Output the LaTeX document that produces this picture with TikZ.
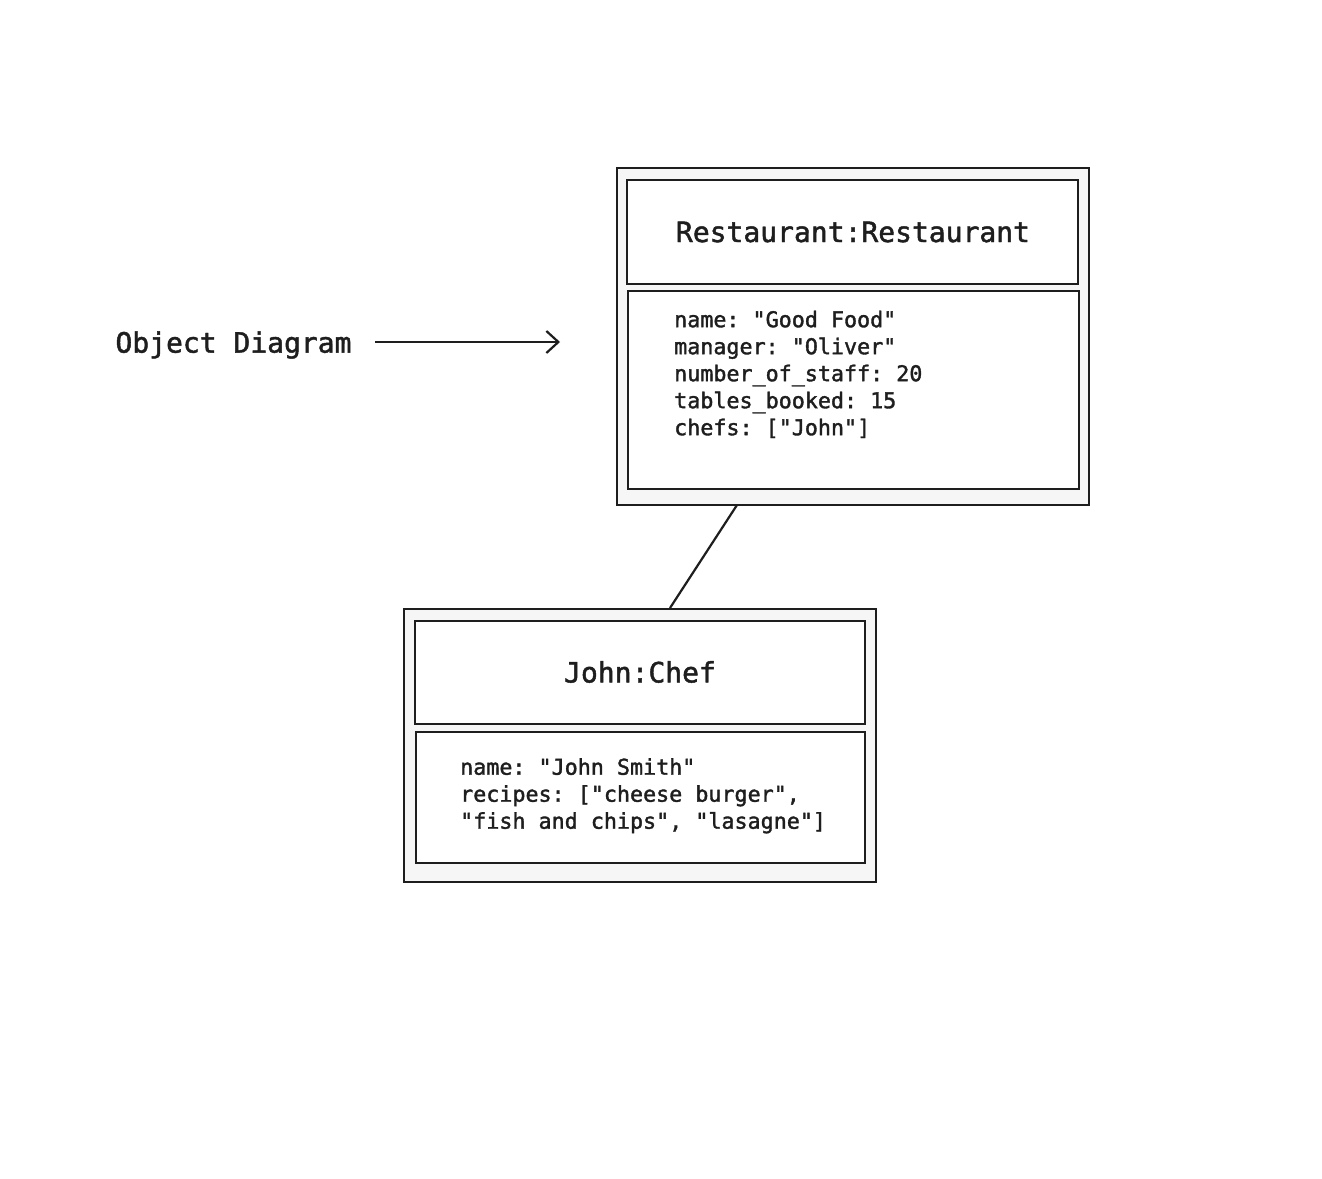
\documentclass[tikz,border=0pt]{standalone}
\usepackage{fontspec}
\setmonofont[FakeBold=1.6]{DejaVu Sans Mono}
\usetikzlibrary{arrows.meta}
\definecolor{ink}{HTML}{1E1E1E}
\definecolor{hatch}{HTML}{F6F6F6}
\tikzset{
  outerbox/.style={draw=ink, line width=1.3pt, fill=hatch},
  innerbox/.style={draw=ink, line width=1.1pt, fill=white},
  titletext/.style={font=\ttfamily\fontsize{28}{34}\selectfont, text=ink, inner sep=0pt},
  bodytext/.style={font=\ttfamily\fontsize{21.7}{27}\selectfont, text=ink, inner sep=0pt, align=left, anchor=north west},
  link/.style={draw=ink, line width=2.2pt},
}
\begin{document}
\begin{tikzpicture}[x=1pt,y=-1pt]
\useasboundingbox[fill=white] (0,0) rectangle (1322,1178);
% Restaurant object
\draw[outerbox] (617,168) rectangle (1089,505);
\node[draw=none, inner sep=0pt, minimum width=472pt, minimum height=337pt] (rest) at (853,336.5) {};
\draw[innerbox] (627,180) rectangle (1078,284);
\draw[innerbox] (628,291) rectangle (1079,489);
\node[titletext] (restTitle) at (853,232) {Restaurant:Restaurant};
\node[bodytext] (restBody) at (674,310.5) {name: "Good Food"\\manager: "Oliver"\\number\_of\_staff: 20\\tables\_booked: 15\\chefs: ["John"]};
% Chef object
\draw[outerbox] (404,609) rectangle (876,882);
\node[draw=none, inner sep=0pt, minimum width=472pt, minimum height=273pt] (chef) at (640,745.5) {};
\draw[innerbox] (415,621) rectangle (865,724);
\draw[innerbox] (416,732) rectangle (865,863);
\node[titletext] (chefTitle) at (640,672) {John:Chef};
\node[bodytext] (chefBody) at (460,758) {name: "John Smith"\\recipes: ["cheese burger",\\"fish and chips", "lasagne"]};
% label and arrow
\node[titletext] (label) at (233.5,345) {Object Diagram};
\coordinate (arrowEnd) at (560,342);
\draw[link, -{Straight Barb[length=12pt,width=22pt,line width=2.2pt]}] (375,342) -- (arrowEnd);
% association
\coordinate (assocA) at (737,505);
\coordinate (assocB) at (670,608);
\draw[link] (assocA) -- (assocB);
\end{tikzpicture}
\end{document}
